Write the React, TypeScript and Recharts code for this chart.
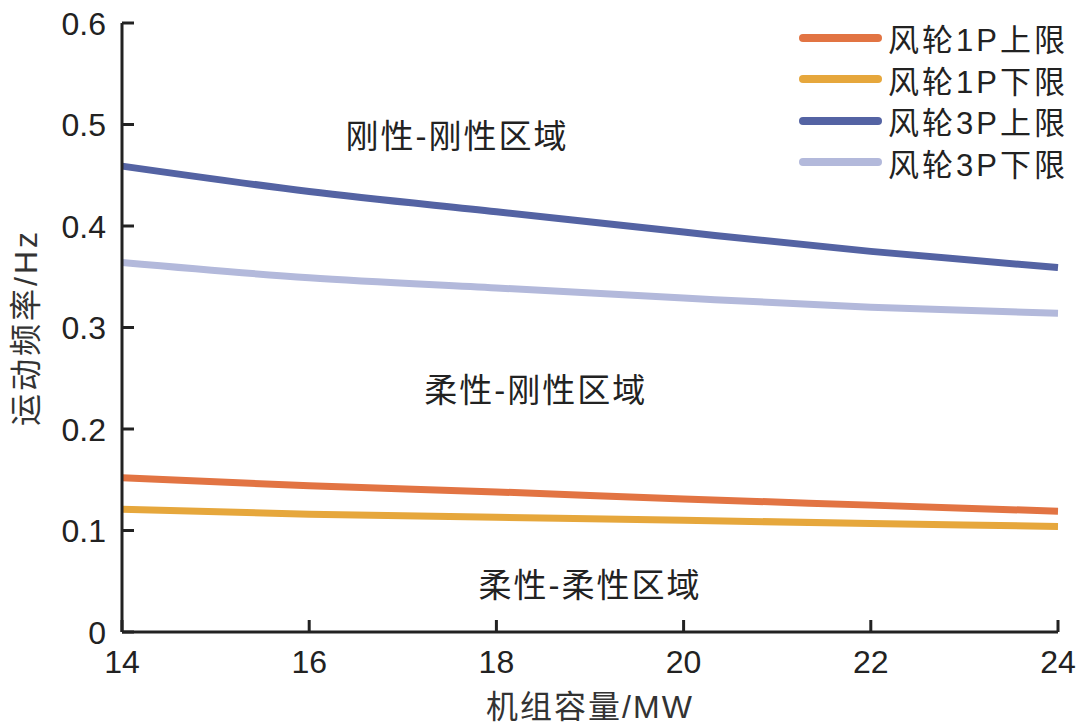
import React from "react";
import { LineChart, Line, XAxis, YAxis, ReferenceDot } from "recharts";

// 机组容量 (MW)
const capacity = [14, 16, 18, 20, 22, 24];
// frequency bounds (Hz)
const p1Upper = [0.152, 0.144, 0.138, 0.131, 0.125, 0.119];
const p1Lower = [0.121, 0.116, 0.113, 0.110, 0.107, 0.104];
const p3Upper = [0.459, 0.434, 0.414, 0.394, 0.375, 0.359];
const p3Lower = [0.364, 0.349, 0.339, 0.329, 0.320, 0.314];

const xTicks = [14, 16, 18, 20, 22, 24];
const yTicks = [0, 0.1, 0.2, 0.3, 0.4, 0.5, 0.6];

const regionLabels = [
  { name: "刚性-刚性区域", x: 17.58, y: 0.488 },
  { name: "柔性-刚性区域", x: 18.42, y: 0.238 },
  { name: "柔性-柔性区域", x: 19.0, y: 0.046 },
];

const series = [
  { key: "p1u", name: "风轮1P上限", color: "#E27443", values: p1Upper },
  { key: "p1l", name: "风轮1P下限", color: "#E6A73C", values: p1Lower },
  { key: "p3u", name: "风轮3P上限", color: "#5463A3", values: p3Upper },
  { key: "p3l", name: "风轮3P下限", color: "#B3B9DB", values: p3Lower },
];

const data = capacity.map((c, i) => {
  const row: any = { cap: c };
  series.forEach((s) => (row[s.key] = s.values[i]));
  return row;
});

const latin = "'Liberation Sans', Arial, sans-serif";
const cjk = "'Liberation Sans', 'Noto Sans CJK SC', sans-serif";
const ink = "#222";

// ticks point into the plot, labels sit outside
const YTick = (props: any) => {
  const { x, y, payload } = props;
  return (
    <g>
      <line x1={x + 16} y1={y} x2={x + 28} y2={y} stroke={ink} strokeWidth={3} />
      <text x={x} y={y} dy="0.36em" textAnchor="end" fill={ink} fontSize={32} fontFamily={latin}>
        {payload.value}
      </text>
    </g>
  );
};

const XTick = (props: any) => {
  const { x, y, payload } = props;
  return (
    <g>
      <line x1={x} y1={y - 12} x2={x} y2={y - 24} stroke={ink} strokeWidth={3} />
      <text x={x} y={y} dy="0.92em" textAnchor="middle" fill={ink} fontSize={32} fontFamily={latin}>
        {payload.value}
      </text>
    </g>
  );
};

function LegendBox() {
  return (
    <div
      style={{
        position: "absolute",
        left: 798,
        top: 17,
        fontFamily: cjk,
        fontSize: 31,
        color: ink,
      }}
    >
      {series.map((s) => (
        <div key={s.key} style={{ display: "flex", alignItems: "center", height: 41.5 }}>
          <svg width={90} height={12}>
            <line x1={5} y1={6} x2={80} y2={6} stroke={s.color} strokeWidth={8} strokeLinecap="round" />
          </svg>
          <span style={{ letterSpacing: 3, whiteSpace: "nowrap" }}>{s.name}</span>
        </div>
      ))}
    </div>
  );
}

export default function App() {
  return (
    <div style={{ position: "fixed", left: 0, top: 0, width: 1080, height: 728, background: "#fff" }}>
      <LineChart
        width={1080}
        height={728}
        data={data}
        margin={{ top: 23, right: 22, left: 0, bottom: 0 }}
      >
        <XAxis
          dataKey="cap"
          type="number"
          domain={[14, 24]}
          ticks={xTicks}
          height={96}
          axisLine={{ stroke: ink, strokeWidth: 3 }}
          tickLine={false}
          tickSize={0}
          tickMargin={12}
          tick={<XTick />}
          label={{
            value: "机组容量/MW",
            position: "insideBottom",
            offset: 10,
            fill: "#333",
            fontSize: 32,
            fontFamily: cjk,
            style: { letterSpacing: 2 },
          }}
        />
        <YAxis
          type="number"
          domain={[0, 0.6]}
          ticks={yTicks}
          width={122}
          axisLine={{ stroke: ink, strokeWidth: 3 }}
          tickLine={false}
          tickSize={0}
          tickMargin={16}
          tick={<YTick />}
          label={{
            value: "运动频率/Hz",
            angle: -90,
            position: "insideLeft",
            offset: 26,
            style: { textAnchor: "middle", letterSpacing: 3 },
            fill: "#333",
            fontSize: 32,
            fontFamily: cjk,
          }}
        />
        {regionLabels.map((r) => (
          <ReferenceDot
            key={r.name}
            x={r.x}
            y={r.y}
            r={0}
            stroke="none"
            label={{
              value: r.name,
              position: "center",
              fill: ink,
              fontSize: 33,
              fontFamily: cjk,
              style: { letterSpacing: 2 },
            }}
          />
        ))}
        {series.map((s) => (
          <Line
            key={s.key}
            type="monotone"
            dataKey={s.key}
            name={s.name}
            stroke={s.color}
            strokeWidth={7}
            dot={false}
            activeDot={false}
            isAnimationActive={false}
          />
        ))}
      </LineChart>
      <LegendBox />
    </div>
  );
}
